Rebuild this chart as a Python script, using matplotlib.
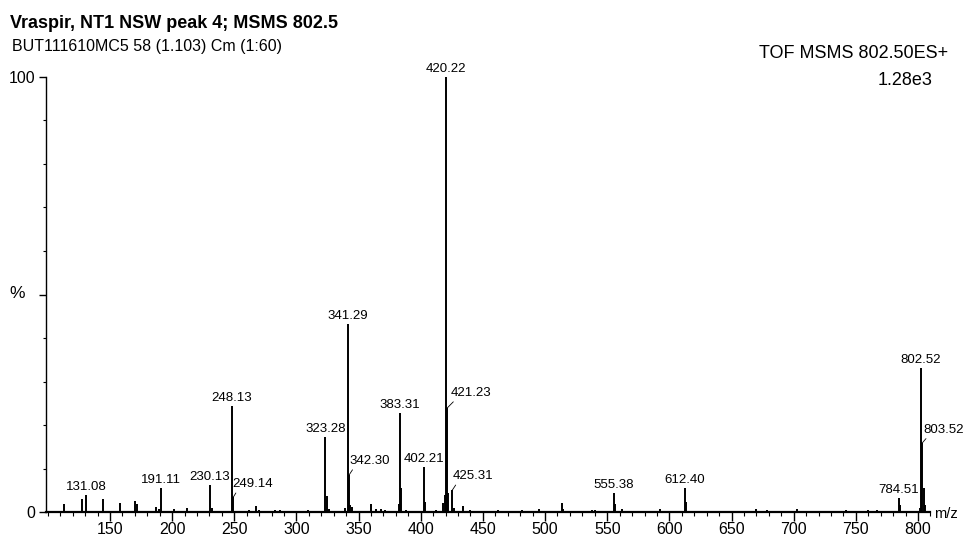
import numpy as np
import matplotlib
matplotlib.use('Agg')
import matplotlib.pyplot as plt

plt.rcParams['font.family'] = ['Liberation Sans', 'DejaVu Sans']

#=== Spectrum data (m/z, relative intensity %) ===#
peak_mz = [113.1, 127.1, 131.08, 144.1, 158.1, 170.1, 172.1, 187.1, 189.1, 191.11,
           201.5, 211.7, 230.13, 232.1, 248.13, 249.14, 262.0, 267.5, 270.0, 283.0,
           287.0, 309.0, 323.28, 324.29, 326.3, 339.3, 341.29, 342.30, 343.3, 344.3,
           359.7, 364.0, 368.0, 371.0, 382.3, 383.31, 384.31, 388.0, 402.21, 403.22,
           412.0, 418.2, 419.2, 420.22, 421.23, 422.23, 425.31, 427.0, 434.2, 440.0,
           462.4, 481.7, 495.1, 513.4, 514.5, 537.5, 540.0, 555.38, 556.38, 561.6,
           592.5, 612.40, 613.41, 670.0, 678.5, 702.4, 742.0, 760.0, 767.0, 784.51,
           785.51, 801.5, 802.52, 803.52, 804.53, 805.53]
peak_int = [1.8, 3.1, 4.0, 3.1, 2.1, 2.6, 1.9, 1.1, 0.6, 5.5,
            0.7, 0.9, 6.1, 1.0, 24.4, 3.4, 0.5, 1.3, 0.5, 0.4,
            0.4, 0.4, 17.3, 3.7, 0.8, 0.9, 43.2, 8.5, 1.7, 1.2,
            1.8, 0.6, 0.6, 0.5, 1.8, 22.8, 5.5, 0.4, 10.4, 2.4,
            0.4, 2.0, 4.0, 100.0, 23.9, 4.4, 5.0, 1.0, 1.3, 0.4,
            0.5, 0.5, 0.8, 2.0, 0.8, 0.5, 0.4, 4.4, 1.8, 0.6,
            0.6, 5.5, 2.3, 0.8, 0.5, 0.6, 0.4, 0.5, 0.4, 3.2,
            1.5, 1.0, 33.0, 15.9, 5.5, 1.7]

#=== Labelled peaks ===#
label_mz = [131.08, 191.11, 230.13, 248.13, 323.28, 341.29, 383.31, 402.21,
            420.22, 555.38, 612.40, 784.51, 802.52]
label_int = [4.0, 5.5, 6.1, 24.4, 17.3, 43.2, 22.8, 10.4, 100.0, 4.4, 5.5, 3.2, 33.0]
# labels drawn beside the peak with a small leader line
leader_mz = [249.14, 342.30, 421.23, 425.31, 803.52]
leader_int = [3.4, 8.5, 23.9, 5.0, 15.9]

xticks_major = [150, 200, 250, 300, 350, 400, 450, 500, 550, 600, 650, 700, 750, 800]

###############################################################################
#                                  Figure                                     #
###############################################################################
fig = plt.figure(figsize=(9.63, 5.44), dpi=100)
ax = fig.add_axes([46/963, 1-512/544, (930.4-46)/963, (512-77)/544])

ax.vlines(peak_mz, 0, peak_int, color='black', lw=1.4)

for mz, h in zip(label_mz, label_int):
    ax.annotate('%.2f' % mz, xy=(mz, h), xytext=(0, 2), textcoords='offset pixels',
                ha='center', va='bottom', fontsize=9.5, annotation_clip=False)

leader_offsets = [(-1, 7), (0, 8), (4, 9), (0, 8), (1, 7)]
for mz, h, off in zip(leader_mz, leader_int, leader_offsets):
    ax.annotate('%.2f' % mz, xy=(mz, h), xytext=off, textcoords='offset pixels',
                ha='left', va='bottom', fontsize=9.5, annotation_clip=False,
                arrowprops=dict(arrowstyle='-', lw=0.6, color='black',
                                shrinkA=0, shrinkB=0, relpos=(0.15, 0.1)))

#=== Axes properties ===#
ax.set_xlim(98.5, 810)
ax.set_ylim(0, 100)
for s in ['top', 'right']:
    ax.spines[s].set_visible(False)
ax.spines['bottom'].set_linewidth(1.6)
ax.spines['left'].set_linewidth(1.0)

ax.set_xticks(xticks_major)
ax.set_xticks(np.arange(100, 811, 10), minor=True)
ax.tick_params(axis='x', which='major', length=6.5, width=1.0, labelsize=11.5, pad=1)
ax.tick_params(axis='x', which='minor', length=3, width=0.8)

ax.set_yticks([0, 50, 100])
ax.set_yticklabels(['0', '', '100'])
ax.set_yticks(np.arange(0, 101, 10), minor=True)
ax.tick_params(axis='y', which='major', length=5, width=1.0, labelsize=11.5, pad=3)
ax.tick_params(axis='y', which='minor', length=2, width=0.8)

#=== Header texts ===#
fig.text(10/963, 1-28/544, 'Vraspir, NT1 NSW peak 4; MSMS 802.5', fontsize=13,
         fontweight='bold', ha='left', va='baseline')
fig.text(12/963, 1-51/544, 'BUT111610MC5 58 (1.103) Cm (1:60)', fontsize=11.5,
         ha='left', va='baseline')
fig.text(948/963, 1-58/544, 'TOF MSMS 802.50ES+', fontsize=13, ha='right', va='baseline')
fig.text(932/963, 1-85/544, '1.28e3', fontsize=13, ha='right', va='baseline')
fig.text(17/963, 1-293/544, '%', fontsize=12.5, ha='center', va='center')
fig.text(946/963, 1-514/544, 'm/z', fontsize=10.5, ha='center', va='center')

plt.savefig('out.png', dpi=100)
